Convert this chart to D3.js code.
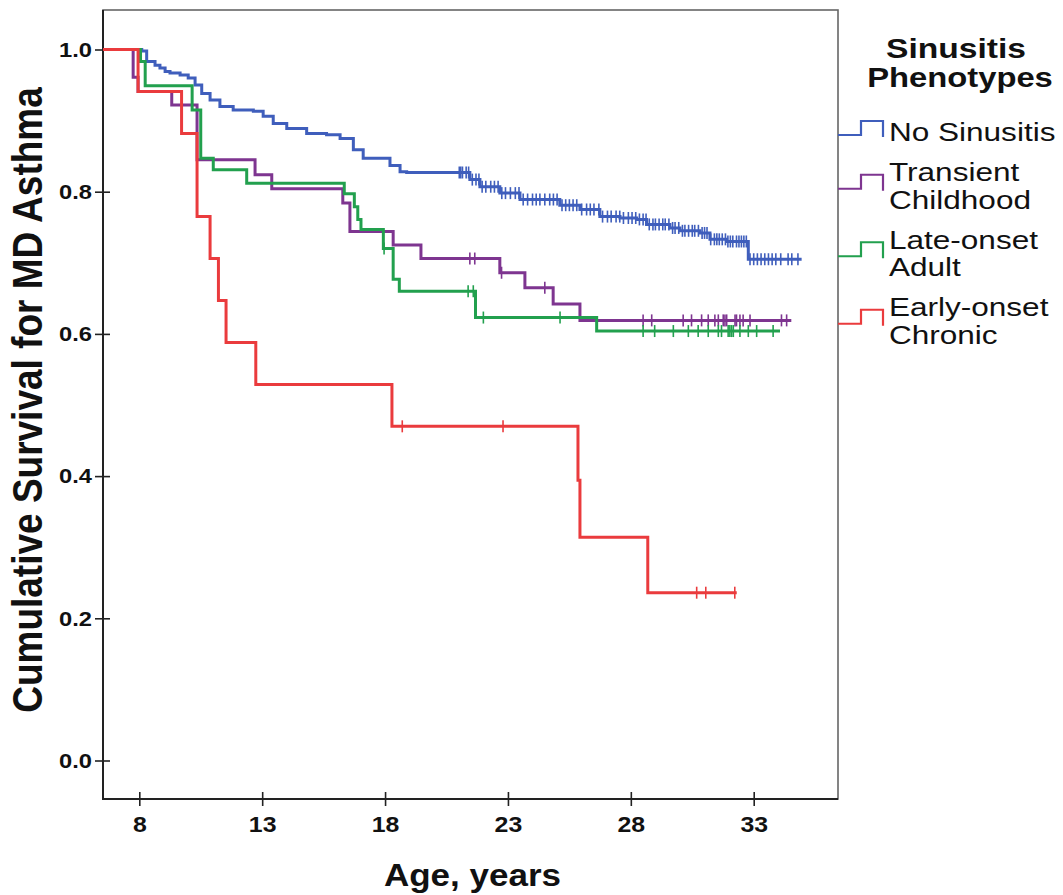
<!DOCTYPE html>
<html>
<head>
<meta charset="utf-8">
<script src="https://cdn.jsdelivr.net/npm/d3@7"></script>
<style>
  body { margin: 0; background: #fff; }
  text { font-family: "Liberation Sans", Arial, sans-serif; fill: #111; }
</style>
</head>
<body>
<div id="chart"></div>
<script>
// data: [age, survival after the drop]
const groupNames = ['No Sinusitis', 'Transient Childhood', 'Late-onset Adult', 'Early-onset Chronic'];
const legendLines = [['No Sinusitis'], ['Transient', 'Childhood'], ['Late-onset', 'Adult'], ['Early-onset', 'Chronic']];

const noSinusitisSteps = [
  [8.10, 0.998], [8.30, 0.983], [8.64, 0.978], [8.84, 0.974], [9.05, 0.969], [9.25, 0.967],
  [9.66, 0.964], [9.99, 0.960], [10.27, 0.950], [10.54, 0.938], [10.88, 0.929], [11.28, 0.920],
  [11.82, 0.915], [12.64, 0.913], [13.04, 0.906], [13.45, 0.896], [14.00, 0.889], [14.81, 0.882],
  [15.62, 0.880], [16.17, 0.875], [16.71, 0.859], [17.11, 0.847], [18.20, 0.837], [18.61, 0.828],
  [18.88, 0.827], [21.45, 0.817], [21.86, 0.807], [22.67, 0.798], [23.49, 0.789], [25.11, 0.781],
  [25.93, 0.775], [26.74, 0.765], [27.56, 0.763], [28.24, 0.761], [28.64, 0.754], [29.59, 0.749],
  [30.00, 0.745], [30.81, 0.742], [31.22, 0.733], [31.90, 0.730], [32.78, 0.705]
];
const noSinusitisCensored = [
  21.02, 21.08, 21.15, 21.3, 21.4, 21.55, 21.7, 21.82, 21.95, 22.1, 22.3, 22.45, 22.6, 22.75, 22.9,
  23.1, 23.3, 23.45, 23.62, 23.8, 24.0, 24.15, 24.3, 24.5, 24.7, 24.85, 25.0, 25.2, 25.35, 25.5,
  25.65, 25.8, 26.0, 26.2, 26.35, 26.5, 26.7, 26.85, 27.05, 27.2, 27.4, 27.55, 27.7, 27.9, 28.05,
  28.2, 28.35, 28.5, 28.62, 28.75, 28.9, 29.0, 29.15, 29.3, 29.4, 29.55, 29.7, 29.8, 29.95, 30.1,
  30.2, 30.35, 30.5, 30.6, 30.75, 30.9, 31.0, 31.1, 31.25, 31.4, 31.5, 31.6, 31.72, 31.85, 31.95,
  32.05, 32.15, 32.3, 32.4, 32.5, 32.6, 32.7, 32.85, 33.0, 33.15, 33.3, 33.45, 33.6, 33.75, 33.9,
  34.1, 34.4, 34.55, 34.8
];
const noSinusitisEnd = 34.95;

const transientSteps = [
  [7.75, 0.961], [7.95, 0.941], [9.32, 0.922], [10.35, 0.845], [12.71, 0.824], [13.39, 0.804],
  [16.28, 0.784], [16.57, 0.744], [18.33, 0.725], [19.46, 0.706], [22.67, 0.686], [23.69, 0.665],
  [24.84, 0.642], [25.93, 0.619]
];
const transientCensored = [
  21.45, 21.65, 22.74, 24.5, 28.5, 28.85, 30.13, 30.47, 30.88, 31.15, 31.42, 31.56, 31.76, 31.83,
  31.9, 32.24, 32.3, 32.44, 32.57, 32.85, 34.13, 34.34
];
const transientEnd = 34.53;

const lateOnsetSteps = [
  [8.05, 0.983], [8.24, 0.949], [10.15, 0.915], [10.5, 0.847], [11.01, 0.831], [12.37, 0.812],
  [16.34, 0.797], [16.75, 0.779], [16.89, 0.761], [17.02, 0.747], [17.93, 0.72], [18.33, 0.677],
  [18.58, 0.66], [21.68, 0.623], [26.61, 0.604]
];
const lateOnsetCensored = [
  17.96, 21.38, 21.59, 22.0, 25.12, 28.5, 28.97, 29.73, 30.34, 30.74, 31.15, 31.56, 31.69, 31.96,
  32.03, 32.1, 32.17, 32.44, 32.78, 33.12, 33.79
];
const lateOnsetEnd = 34.07;

const earlyOnsetSteps = [
  [7.95, 0.941], [9.72, 0.882], [10.35, 0.765], [10.88, 0.706], [11.22, 0.647], [11.53, 0.588],
  [12.74, 0.529], [18.28, 0.47], [25.85, 0.394], [25.93, 0.314], [28.69, 0.236]
];
const earlyOnsetCensored = [18.7, 22.8, 30.68, 31.05, 32.23];
const earlyOnsetEnd = 32.31;

const xTicks = [8, 13, 18, 23, 28, 33];
const yTicks = [0, 0.2, 0.4, 0.6, 0.8, 1.0];
const colors = ['#3F5EBC', '#7E3590', '#22A04E', '#EA3B3D'];

const series = [
  { steps: noSinusitisSteps, censored: noSinusitisCensored, end: noSinusitisEnd },
  { steps: transientSteps, censored: transientCensored, end: transientEnd },
  { steps: lateOnsetSteps, censored: lateOnsetCensored, end: lateOnsetEnd },
  { steps: earlyOnsetSteps, censored: earlyOnsetCensored, end: earlyOnsetEnd },
];

// dimensions
const width = 1063;
const height = 895;
const plotLeft = 103, plotRight = 838, plotTop = 10, plotBottom = 799;
const stretch = 1.13; // the original picture is a bit wider than tall

const x = d3.scaleLinear().domain([6.523, 36.43]).range([plotLeft, plotRight]);
const y = d3.scaleLinear().domain([0, 1]).range([760.5, 49.5]);

const svg = d3.select('#chart')
  .append('svg')
  .attr('width', width)
  .attr('height', height);

svg.append('rect').attr('width', width).attr('height', height).attr('fill', '#fff');

svg.append('defs').append('clipPath').attr('id', 'plot')
  .append('rect')
  .attr('x', plotLeft).attr('y', plotTop)
  .attr('width', plotRight - plotLeft).attr('height', plotBottom - plotTop);

// text with a horizontal stretch around its anchor
function label(g, tx, ty, str, size, weight, anchor, sx = stretch) {
  return g.append('text')
    .attr('transform', `translate(${tx},${ty}) scale(${sx},1)`)
    .attr('text-anchor', anchor)
    .style('font-size', size + 'px')
    .style('font-weight', weight)
    .text(str);
}

// frame
svg.append('rect')
  .attr('x', plotLeft).attr('y', plotTop)
  .attr('width', plotRight - plotLeft).attr('height', plotBottom - plotTop)
  .attr('fill', 'none')
  .attr('stroke', '#666')
  .attr('stroke-width', 1.6);

// axes
const yAxis = svg.append('g')
  .attr('transform', `translate(${plotLeft},0)`)
  .call(d3.axisLeft(y).tickValues(yTicks).tickFormat(d3.format('.1f')).tickSize(8).tickPadding(3));
yAxis.select('.domain').remove();
yAxis.selectAll('.tick line').attr('x1', 7).attr('stroke', '#222').attr('stroke-width', 1.6);
yAxis.selectAll('.tick text')
  .attr('transform', `translate(-11,0) scale(${stretch},1) translate(11,0)`)
  .style('font-size', '21px').style('font-weight', 'bold')
  .attr('font-family', null);

const xAxis = svg.append('g')
  .attr('transform', `translate(0,${plotBottom})`)
  .call(d3.axisBottom(x).tickValues(xTicks).tickFormat(d3.format('d')).tickSize(7).tickPadding(10));
xAxis.select('.domain').remove();
xAxis.selectAll('.tick line').attr('y1', -7).attr('stroke', '#222').attr('stroke-width', 1.6);
xAxis.selectAll('.tick text')
  .attr('transform', `scale(${stretch},1)`)
  .style('font-size', '22px').style('font-weight', 'bold')
  .attr('font-family', null);

svg.append('line')
  .attr('x1', plotLeft).attr('x2', plotLeft).attr('y1', plotTop).attr('y2', plotBottom + 1)
  .attr('stroke', '#222').attr('stroke-width', 2);
svg.append('line')
  .attr('x1', plotLeft - 1).attr('x2', plotRight).attr('y1', plotBottom).attr('y2', plotBottom)
  .attr('stroke', '#222').attr('stroke-width', 2);

// axis titles
label(svg, (plotLeft + plotRight) / 2 + 2, 886, 'Age, years', 31, 'bold', 'middle');
svg.append('text')
  .attr('transform', `translate(42,400) rotate(-90) scale(1,${stretch})`)
  .attr('text-anchor', 'middle')
  .style('font-size', '37px')
  .style('font-weight', 'bold')
  .text('Cumulative Survival for MD Asthma');

// survival curves
const line = d3.line()
  .x(d => x(d[0]))
  .y(d => y(d[1]))
  .curve(d3.curveStepAfter);

const plot = svg.append('g').attr('clip-path', 'url(#plot)');

function valueAt(steps, t) {
  let v = 1;
  steps.forEach(s => { if (s[0] <= t) v = s[1]; });
  return v;
}

series.forEach((s, i) => {
  const last = s.steps[s.steps.length - 1][1];
  const pts = [[x.domain()[0], 1], ...s.steps, [s.end, last]];
  const g = plot.append('g');

  g.append('path')
    .attr('d', line(pts))
    .attr('fill', 'none')
    .attr('stroke', colors[i])
    .attr('stroke-width', 3)
    .attr('stroke-linejoin', 'miter');

  g.selectAll('.censor')
    .data(s.censored)
    .enter().append('line')
    .attr('class', 'censor')
    .attr('x1', d => x(d)).attr('x2', d => x(d))
    .attr('y1', d => y(valueAt(s.steps, d)) - 6)
    .attr('y2', d => y(valueAt(s.steps, d)) + 6)
    .attr('stroke', colors[i])
    .attr('stroke-width', 1.6);
});

// legend
const legend = svg.append('g');
label(legend, 956, 58, 'Sinusitis', 28, 'bold', 'middle', 1.2);
label(legend, 960, 87, 'Phenotypes', 28, 'bold', 'middle', 1.17);

let base = 141;
groupNames.forEach((name, i) => {
  const lines = legendLines[i];
  const mid = base + (lines.length - 1) * 27.5 / 2 - 13;
  legend.append('path')
    .attr('d', `M${plotRight},${mid + 7}H861V${mid - 7}H883V${mid + 9}`)
    .attr('fill', 'none')
    .attr('stroke', colors[i])
    .attr('stroke-width', 2.2);
  lines.forEach((t, j) => {
    label(legend, 889, base + j * 27.5, t, 26.5, 'normal', 'start', 1.19);
  });
  base += (lines.length - 1) * 27.5 + 40;
});
</script>
</body>
</html>
